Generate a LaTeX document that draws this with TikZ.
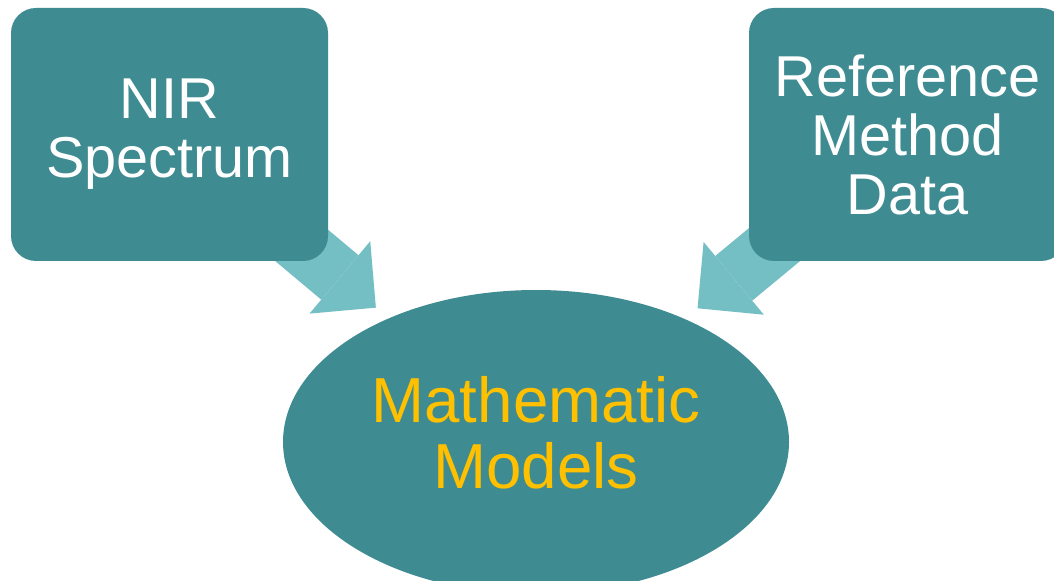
\documentclass[tikz,border=0pt]{standalone}
\usepackage{fontspec}
\setmainfont{Liberation Sans}
\usepackage{xcolor}
\usetikzlibrary{arrows.meta,shapes.geometric,backgrounds}

\definecolor{tealdark}{RGB}{62,139,145}
\definecolor{teallight}{RGB}{116,191,196}
\definecolor{modelgold}{RGB}{255,192,0}

\begin{document}
\begin{tikzpicture}[
  every node/.style={font=\fontsize{16.4}{16.8}\selectfont},
  inbox/.style={rectangle,rounded corners=0.25cm,fill=tealdark,text=white,
    minimum width=3.17cm,minimum height=2.53cm,align=center,inner sep=0pt},
  modelnode/.style={ellipse,fill=tealdark,text=modelgold,minimum width=5.06cm,
    minimum height=3.04cm,align=center,inner sep=0pt,text depth=0.2cm,
    font=\fontsize{18.1}{18.8}\selectfont},
  feed/.style={teallight,line width=0.58cm,shorten >=0.16cm,
    -{Triangle[width=0.945cm,length=0.47cm,line width=0pt]}}]

  \useasboundingbox (0,0) rectangle (10.54,5.80);
  % inputs
  \node[inbox] (nir) at (1.695,4.455) {NIR\\Spectrum};
  \node[inbox] (refdata) at (9.075,4.455) {Reference\\Method\\Data};
  % model
  \node[modelnode] (models) at (5.36,1.38) {Mathematic\\Models};
  % arrows
  \begin{pgfonlayer}{background}
    \draw[feed] (nir.center) -- (models);
    \draw[feed] (refdata.center) -- (models);
  \end{pgfonlayer}
\end{tikzpicture}
\end{document}
